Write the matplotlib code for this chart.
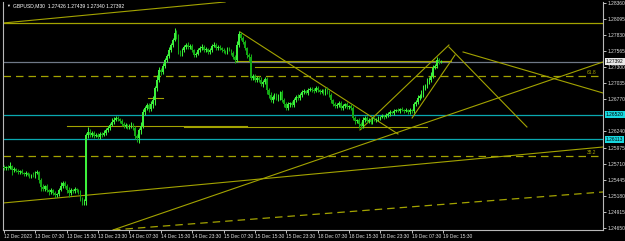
import matplotlib
matplotlib.use("Agg")
import matplotlib.pyplot as plt
import numpy as np

plt.rcParams['font.family'] = ['Liberation Sans', 'DejaVu Sans']

# ---- data (GBPUSD M30) ----
first_open = 1.25660
closes = [
    1.25638, 1.25654, 1.25638, 1.25671, 1.25605, 1.25621, 1.25588, 1.25572,
    1.25588, 1.25555, 1.25539, 1.25555, 1.25522, 1.25506, 1.25522, 1.25506,
    1.25555, 1.25572, 1.25440, 1.25324, 1.25291, 1.25341, 1.25275, 1.25242,
    1.25275, 1.25225, 1.25192, 1.25209, 1.25275, 1.25341, 1.25390, 1.25341,
    1.25275, 1.25225, 1.25275, 1.25258, 1.25291, 1.25275, 1.25242, 1.25143,
    1.25060, 1.25093, 1.26182, 1.26232, 1.26182, 1.26215, 1.26166, 1.26182,
    1.26149, 1.26199, 1.26182, 1.26215, 1.26265, 1.26298, 1.26347, 1.26397,
    1.26430, 1.26463, 1.26446, 1.26413, 1.26364, 1.26331, 1.26347, 1.26314,
    1.26331, 1.26364, 1.26298, 1.26166, 1.26133, 1.26265, 1.26331, 1.26562,
    1.26628, 1.26677, 1.26611, 1.26694, 1.26760, 1.26958, 1.27090, 1.27255,
    1.27222, 1.27321, 1.27420, 1.27486, 1.27585, 1.27667, 1.27750, 1.27865,
    1.27816, 1.27552, 1.27519, 1.27585, 1.27634, 1.27667, 1.27634, 1.27651,
    1.27585, 1.27502, 1.27519, 1.27585, 1.27618, 1.27634, 1.27585, 1.27601,
    1.27552, 1.27585, 1.27651, 1.27667, 1.27618, 1.27634, 1.27618, 1.27585,
    1.27568, 1.27552, 1.27601, 1.27585, 1.27535, 1.27469, 1.27420, 1.27667,
    1.27849, 1.27783, 1.27717, 1.27618, 1.27502, 1.27469, 1.27123, 1.27156,
    1.27090, 1.27123, 1.27090, 1.27024, 1.27057, 1.27106, 1.26925, 1.26842,
    1.26760, 1.26809, 1.26842, 1.26793, 1.26826, 1.26892, 1.26760, 1.26694,
    1.26628, 1.26694, 1.26710, 1.26677, 1.26760, 1.26809, 1.26793, 1.26842,
    1.26892, 1.26908, 1.26875, 1.26925, 1.26941, 1.26925, 1.26908, 1.26958,
    1.26925, 1.26892, 1.26908, 1.26875, 1.26925, 1.26892, 1.26842, 1.26760,
    1.26694, 1.26661, 1.26677, 1.26710, 1.26628, 1.26661, 1.26694, 1.26644,
    1.26661, 1.26628, 1.26463, 1.26413, 1.26430, 1.26364, 1.26331, 1.26430,
    1.26463, 1.26413, 1.26430, 1.26397, 1.26446, 1.26430, 1.26446, 1.26463,
    1.26479, 1.26496, 1.26479, 1.26512, 1.26529, 1.26562, 1.26545, 1.26578,
    1.26595, 1.26578, 1.26611, 1.26595, 1.26578, 1.26595, 1.26562, 1.26595,
    1.26578, 1.26694, 1.26727, 1.26793, 1.26826, 1.26859, 1.26958, 1.26991,
    1.27057, 1.27090, 1.27156, 1.27288, 1.27321, 1.27420, 1.27387, 1.27392,
]
# wick lengths in pips above / below the body
upper_wick = [
    3, 2, 4, 6, 2, 3, 2, 3, 2, 3, 2, 4, 2, 3, 2, 5,
    3, 4, 2, 3, 5, 2, 3, 2, 4, 2, 3, 2, 3, 6, 4, 3,
    4, 5, 3, 2, 3, 2, 2, 3, 2, 4, 3, 8, 5, 4, 3, 4,
    3, 4, 3, 5, 4, 3, 4, 6, 5, 4, 3, 2, 3, 4, 3, 2,
    3, 4, 2, 3, 4, 3, 6, 5, 4, 3, 4, 5, 6, 4, 8, 5,
    4, 5, 3, 4, 5, 3, 4, 8, 5, 3, 4, 3, 4, 3, 5, 3,
    4, 2, 3, 4, 3, 5, 3, 4, 2, 3, 4, 5, 3, 4, 3, 2,
    3, 2, 3, 4, 2, 3, 3, 6, 5, 4, 3, 4, 2, 3, 5, 4,
    3, 4, 3, 5, 4, 3, 4, 3, 5, 4, 3, 4, 3, 2, 3, 4,
    3, 4, 2, 3, 4, 3, 5, 3, 4, 3, 2, 4, 3, 3, 4, 3,
    3, 2, 3, 4, 3, 5, 3, 4, 2, 3, 4, 3, 4, 3, 2, 3,
    2, 3, 4, 3, 2, 4, 3, 5, 3, 4, 3, 2, 3, 3, 2, 3,
    2, 3, 2, 3, 4, 3, 2, 3, 2, 3, 2, 3, 2, 3, 2, 3,
    2, 4, 3, 5, 4, 6, 5, 4, 6, 5, 6, 5, 4, 5, 3, 2,
]
lower_wick = [
    3, 4, 3, 2, 8, 3, 2, 4, 3, 2, 4, 3, 2, 3, 4, 2,
    3, 2, 5, 6, 3, 4, 3, 5, 4, 3, 5, 4, 3, 2, 3, 4,
    5, 6, 4, 3, 4, 3, 4, 5, 4, 3, 6, 5, 3, 4, 3, 2,
    3, 4, 3, 2, 3, 4, 3, 2, 3, 2, 3, 4, 3, 4, 3, 3,
    4, 3, 4, 5, 6, 8, 7, 4, 5, 4, 5, 4, 6, 8, 5, 4,
    5, 4, 4, 3, 4, 3, 3, 2, 5, 4, 3, 4, 3, 3, 4, 3,
    3, 4, 3, 2, 3, 3, 4, 3, 4, 3, 3, 2, 3, 4, 3, 3,
    4, 3, 3, 2, 3, 4, 5, 3, 4, 3, 4, 3, 5, 6, 4, 3,
    4, 3, 4, 3, 5, 4, 6, 5, 4, 5, 4, 3, 5, 6, 4, 5,
    4, 3, 5, 4, 3, 4, 3, 4, 3, 3, 2, 3, 2, 3, 3, 2,
    3, 3, 2, 3, 3, 4, 3, 5, 4, 3, 3, 4, 3, 4, 3, 3,
    3, 4, 3, 5, 4, 6, 5, 3, 4, 3, 3, 4, 3, 2, 3, 3,
    3, 2, 3, 2, 3, 3, 2, 3, 2, 2, 3, 2, 3, 2, 3, 3,
    3, 3, 4, 3, 4, 3, 5, 4, 3, 4, 3, 3, 2, 3, 3, 2,
]

time_labels = ["12 Dec 2023", "13 Dec 07:30", "13 Dec 15:30", "13 Dec 23:30",
               "14 Dec 07:30", "14 Dec 15:30", "14 Dec 23:30", "15 Dec 07:30",
               "15 Dec 15:30", "15 Dec 23:30", "18 Dec 07:30", "18 Dec 15:30",
               "18 Dec 23:30", "19 Dec 07:30", "19 Dec 15:30"]
time_ticks = [0, 16, 32, 48, 64, 80, 96, 112, 128, 144, 160, 176, 192, 208, 224]
price_ticks = [1.28360, 1.28095, 1.27830, 1.27565, 1.27300, 1.27035, 1.26770,
               1.26240, 1.25975, 1.25710, 1.25445, 1.25180, 1.24915, 1.24650]

title = "GBPUSD,M30  1.27426 1.27439 1.27340 1.27392"
bid = 1.27392
cyan_levels = [1.26520, 1.26113]
fib_levels = [(1.27156, "61.8"), (1.25836, "38.2")]
top_level = 1.28030

# drawn objects: (bar0, price0, bar1, price1)
trend_lines = [
    (-0.5, 1.28030, 112.8, 1.28377),
    (55.6, 1.24615, 305.6, 1.27387),
    (-0.5, 1.25060, 305.6, 1.25984),
    (120.4, 1.27882, 201.0, 1.26199),
    (181.6, 1.26265, 227.0, 1.27667),
    (208.2, 1.26463, 230.1, 1.27502),
    (227.0, 1.27634, 266.8, 1.26314),
    (234.2, 1.27552, 305.6, 1.26875),
]
dashed_lines = [
    (55.6, 1.24615, 305.6, 1.25242),
]
h_segments = [
    (32, 124, 1.26331), (92, 216, 1.26314), (73.5, 81, 1.26793),
    (118, 228, 1.27400), (128, 221, 1.27304),
]

# ---- figure ----
bg = "black"
olive = "#a3a300"
fs = 3.5
fig = plt.figure(figsize=(6.25, 2.41), dpi=100, facecolor=bg)
ax = fig.add_axes([3 / 625, 11 / 241, 600 / 625, 228 / 241])
ax.set_facecolor(bg)
ax.set_xlim(-0.51, 305.6)
ax.set_ylim(1.246145, 1.283765)

# level lines
ax.axhline(top_level, color=olive, lw=0.9)
for lv in cyan_levels:
    ax.axhline(lv, color="#0aa8b0", lw=0.9)
for lv, name in fib_levels:
    ax.axhline(lv, color=olive, lw=0.9, dashes=(6, 4))
    ax.text(302, lv + 0.0002, name, color=olive, fontsize=fs, ha="right", va="bottom")
ax.axhline(bid, color="#6f7887", lw=0.9)

for b0, p0, b1, p1 in trend_lines:
    ax.plot([b0, b1], [p0, p1], color=olive, lw=0.8)
for b0, p0, b1, p1 in dashed_lines:
    ax.plot([b0, b1], [p0, p1], color=olive, lw=0.9, dashes=(6, 4))
for b0, b1, p in h_segments:
    ax.plot([b0, b1], [p, p], color=olive, lw=0.8)

# candles
n = len(closes)
opens = np.array([first_open] + closes[:-1])
closes_a = np.array(closes)
hi = np.maximum(opens, closes_a) + np.array(upper_wick) * 0.0001
lo = np.minimum(opens, closes_a) - np.array(lower_wick) * 0.0001
idx = np.arange(n)
up = closes_a >= opens
col = np.where(up, "#3cf03c", "#14a814")
ax.vlines(idx, lo, hi, colors=col, lw=0.75, zorder=3)
body_h = np.maximum(np.abs(closes_a - opens), 0.00005)
ax.bar(idx, body_h, bottom=np.minimum(opens, closes_a), width=0.85,
       color=col, lw=0, zorder=4)

# axes styling
ax.spines["top"].set_visible(False)
for s in ["left", "right", "bottom"]:
    ax.spines[s].set_color("#b8b8b8")
    ax.spines[s].set_linewidth(0.8)

ax.yaxis.tick_right()
ax.set_yticks(price_ticks)
ax.set_yticklabels(["%.5f" % p for p in price_ticks])
ax.set_xticks(time_ticks)
ax.set_xticklabels(time_labels, ha="left")
ax.tick_params(colors="#e0e0e0", labelsize=fs, length=2, width=0.6, pad=1.0)

# price boxes on the scale
tr = ax.get_yaxis_transform()
ax.text(1.005, bid, "%.5f" % bid, transform=tr, fontsize=fs, color="black",
        va="center", ha="left",
        bbox=dict(boxstyle="square,pad=0.2", fc="#e8e8e8", ec="none"))
for lv in cyan_levels:
    ax.text(1.005, lv, "%.5f" % lv, transform=tr, fontsize=fs, color="black",
            va="center", ha="left",
            bbox=dict(boxstyle="square,pad=0.2", fc="#18d8e0", ec="none"))

fig.text(6 / 625, 1 - 6 / 241, "\u25bc", color="white", fontsize=2.8, va="center")
fig.text(13 / 625, 1 - 6 / 241, title, color="white", fontsize=3.6, va="center")

fig.savefig("out.png", dpi=100, facecolor=bg)
